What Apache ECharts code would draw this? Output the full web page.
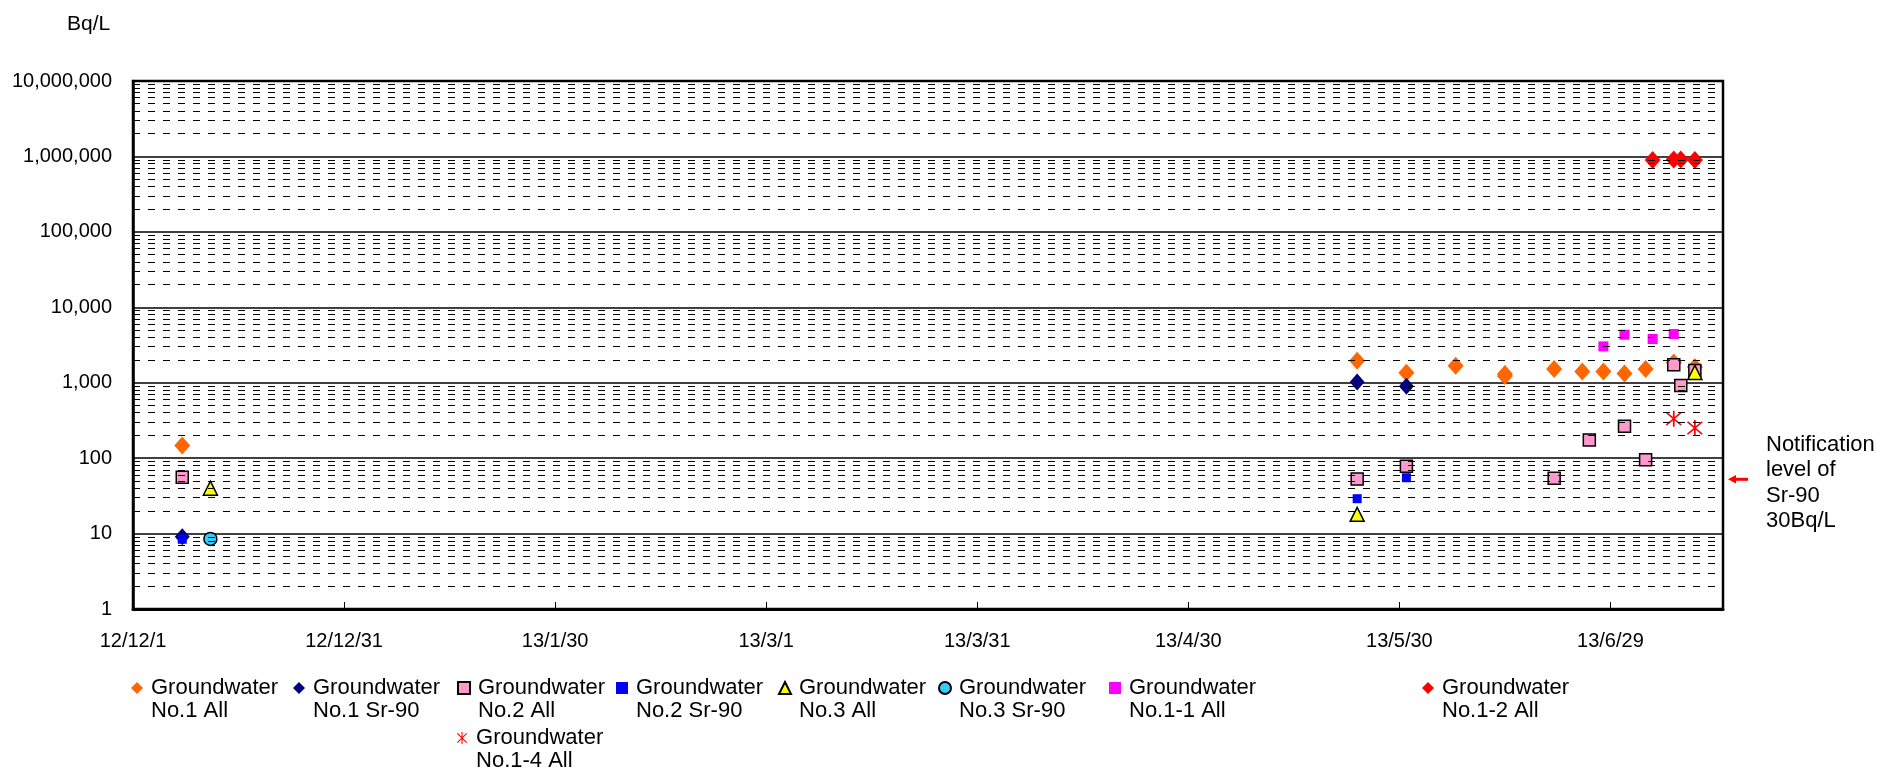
<!DOCTYPE html>
<html>
<head>
<meta charset="utf-8">
<title>Groundwater radioactivity</title>
<script src="https://cdn.jsdelivr.net/npm/echarts@6/dist/echarts.min.js"></script>
<style>
  html, body { margin: 0; padding: 0; background: #fff; }
  #chart { width: 1892px; height: 774px; }
</style>
</head>
<body>
<div id="chart"></div>
<script>
// ---- data -------------------------------------------------------------
const xTickLabels = ['12/12/1', '12/12/31', '13/1/30', '13/3/1', '13/3/31', '13/4/30', '13/5/30', '13/6/29'];
const yTickLabels = ['1', '10', '100', '1,000', '10,000', '100,000', '1,000,000', '10,000,000'];

const no1AllDates   = ['2012-12-08', '2013-05-24', '2013-05-31', '2013-06-07', '2013-06-14', '2013-06-14', '2013-06-21', '2013-06-25', '2013-06-28', '2013-07-01', '2013-07-04', '2013-07-08', '2013-07-11'];
const no1AllValues  = [147, 1960, 1360, 1680, 1300, 1230, 1520, 1410, 1410, 1320, 1520, 1850, 1620];

const no1SrDates    = ['2012-12-08', '2013-05-24', '2013-05-31'];
const no1SrValues   = [9.1, 1020, 900];

const no2AllDates   = ['2012-12-08', '2013-05-24', '2013-05-31', '2013-06-21', '2013-06-26', '2013-07-01', '2013-07-04', '2013-07-08', '2013-07-09', '2013-07-11'];
const no2AllValues  = [56, 53, 78, 54, 174, 264, 95, 1730, 920, 1450];

const no2SrDates    = ['2012-12-08', '2013-05-24', '2013-05-31'];
const no2SrValues   = [8.4, 29, 55];

const no3AllDates   = ['2012-12-12', '2013-05-24', '2013-07-11'];
const no3AllValues  = [40, 18, 1370];

const no3SrDates    = ['2012-12-12'];
const no3SrValues   = [8.5];

const no11AllDates  = ['2013-06-28', '2013-07-01', '2013-07-05', '2013-07-08'];
const no11AllValues = [3030, 4330, 3800, 4420];

const no12AllDates  = ['2013-07-05', '2013-07-08', '2013-07-09', '2013-07-11'];
const no12AllValues = [900000, 910000, 910000, 900000];

const no14AllDates  = ['2013-07-08', '2013-07-11'];
const no14AllValues = [333, 251];

// ---- axis setup --------------------------------------------------------
const START = Date.UTC(2012, 11, 1);
const DAY = 86400000;
const X_MIN = 0, X_MAX = 226, X_STEP = 30;

function dayOffset(s) {
  const p = s.split('-').map(Number);
  return (Date.UTC(p[0], p[1] - 1, p[2]) - START) / DAY;
}
function pairs(dates, values) {
  return dates.map((d, i) => [dayOffset(d), values[i]]);
}

// dashed minor grid at 2..9 of every decade
const minorLevels = [];
for (let dec = 1; dec < 1e7; dec *= 10) {
  for (let k = 2; k <= 9; k++) minorLevels.push(k * dec);
}

const ASTERISK = 'path://M9.1 0 L10.9 0 L10.9 20 L9.1 20 Z M1.6 2.9 L2.9 1.6 L18.4 17.1 L17.1 18.4 Z M17.1 1.6 L18.4 2.9 L2.9 18.4 L1.6 17.1 Z';

const seriesDefs = [
  { name: 'Groundwater\nNo.1 All',   data: pairs(no1AllDates, no1AllValues),   symbol: 'diamond',  size: [16, 18], color: '#FF6600', border: null,   legendX: 137,  row: 0 },
  { name: 'Groundwater\nNo.1 Sr-90', data: pairs(no1SrDates, no1SrValues),     symbol: 'diamond',  size: [15, 17], color: '#000080', border: null,   legendX: 299,  row: 0 },
  { name: 'Groundwater\nNo.2 All',   data: pairs(no2AllDates, no2AllValues),   symbol: 'rect',     size: 12,       color: '#FF99CC', border: '#000', legendX: 463,  row: 0 },
  { name: 'Groundwater\nNo.2 Sr-90', data: pairs(no2SrDates, no2SrValues),     symbol: 'rect',     size: 9,        color: '#0000FF', border: null,   legendX: 622,  row: 0 },
  { name: 'Groundwater\nNo.3 All',   data: pairs(no3AllDates, no3AllValues),   symbol: 'triangle', size: 14,       color: '#FFFF00', border: '#000', legendX: 784,  row: 0 },
  { name: 'Groundwater\nNo.3 Sr-90', data: pairs(no3SrDates, no3SrValues),     symbol: 'circle',   size: 13,       color: '#33CCFF', border: '#000', legendX: 944,  row: 0 },
  { name: 'Groundwater\nNo.1-1 All', data: pairs(no11AllDates, no11AllValues), symbol: 'rect',     size: 10,       color: '#FF00FF', border: null,   legendX: 1115, row: 0 },
  { name: 'Groundwater\nNo.1-2 All', data: pairs(no12AllDates, no12AllValues), symbol: 'diamond',  size: [16, 18], color: '#FF0000', border: null,   legendX: 1428, row: 0 },
  { name: 'Groundwater\nNo.1-4 All', data: pairs(no14AllDates, no14AllValues), symbol: ASTERISK,   size: 16,       color: '#FF0000', border: null,   legendX: 463,  row: 1 }
];

const FONT = 'Arial, "Liberation Sans", Helvetica, sans-serif';
const LEGEND_ICON = 12;
const LEGEND_LH = 23;
const legendRowY = [688, 738];

// a blank leading line keeps the icon level with the first text line
const legends = seriesDefs.map(s => ({
  data: [s.name],
  orient: 'horizontal',
  left: s.legendX - LEGEND_ICON / 2,
  top: legendRowY[s.row] - LEGEND_LH * 1.5,
  padding: 0,
  itemWidth: LEGEND_ICON,
  itemHeight: LEGEND_ICON,
  selectedMode: false,
  formatter: name => ' \n' + name,
  textStyle: {
    fontFamily: FONT,
    fontSize: 22,
    color: '#000',
    lineHeight: LEGEND_LH,
    padding: [0, 0, 0, 3]
  }
}));

const scatterSeries = seriesDefs.map(s => ({
  name: s.name,
  type: 'scatter',
  data: s.data,
  symbol: s.symbol,
  symbolSize: s.size,
  z: 3,
  itemStyle: {
    color: s.color,
    opacity: 1,
    borderColor: s.border || s.color,
    borderWidth: s.border ? 1.5 : 0
  },
  emphasis: { disabled: true }
}));

const minorGrid = {
  name: 'minor-grid',
  type: 'scatter',
  data: [],
  z: 1,
  silent: true,
  markLine: {
    silent: true,
    symbol: 'none',
    animation: false,
    label: { show: false },
    emphasis: { disabled: true },
    lineStyle: { color: '#000', width: 1, type: [7, 8] },
    data: minorLevels.map(v => ({ yAxis: v }))
  }
};

const chart = echarts.init(document.getElementById('chart'), null, { renderer: 'canvas' });

chart.setOption({
  animation: false,
  backgroundColor: '#fff',
  title: {
    text: 'Bq/L',
    left: 62,
    top: 9,
    textStyle: { fontFamily: FONT, fontSize: 21, fontWeight: 'normal', color: '#000' }
  },
  grid: {
    left: 133,
    right: 169,
    top: 81,
    bottom: 165,
    show: true,
    borderColor: '#000',
    borderWidth: 2.5,
    backgroundColor: '#fff'
  },
  legend: legends,
  xAxis: {
    type: 'value',
    min: X_MIN,
    max: X_MAX,
    interval: X_STEP,
    splitLine: { show: false },
    axisLine: { show: true, onZero: false, lineStyle: { color: '#000', width: 3 } },
    axisTick: { show: true, inside: true, length: 7, lineStyle: { color: '#000', width: 1 } },
    axisLabel: {
      showMaxLabel: false,
      margin: 22,
      fontFamily: FONT,
      fontSize: 20,
      color: '#000',
      formatter: v => (v % X_STEP === 0 ? (xTickLabels[v / X_STEP] || '') : '')
    }
  },
  yAxis: {
    type: 'log',
    logBase: 10,
    min: 1,
    max: 1e7,
    interval: 1,
    splitNumber: 7,
    axisLine: { show: true, lineStyle: { color: '#000', width: 2.5 } },
    axisTick: { show: false },
    splitLine: { show: true, lineStyle: { color: '#000', width: 1.5 } },
    axisLabel: {
      margin: 21,
      fontFamily: FONT,
      fontSize: 20,
      color: '#000',
      formatter: v => {
        const i = Math.round(Math.log10(v));
        return yTickLabels[i] !== undefined ? yTickLabels[i] : '';
      }
    }
  },
  series: [minorGrid].concat(scatterSeries),
  graphic: [
    {
      type: 'group',
      silent: true,
      children: [
        { type: 'rect', shape: { x: 1733, y: 477.8, width: 15, height: 3 }, style: { fill: '#FF0000' } },
        { type: 'polygon', shape: { points: [[1728, 479.3], [1736, 475], [1736, 483.6]] }, style: { fill: '#FF0000' } }
      ]
    },
    {
      type: 'text',
      left: 1766,
      top: 432,
      silent: true,
      style: {
        text: 'Notification\nlevel of\nSr-90\n30Bq/L',
        fontFamily: FONT,
        fontSize: 22,
        lineHeight: 25.5,
        fill: '#000'
      }
    }
  ]
});
</script>
</body>
</html>
